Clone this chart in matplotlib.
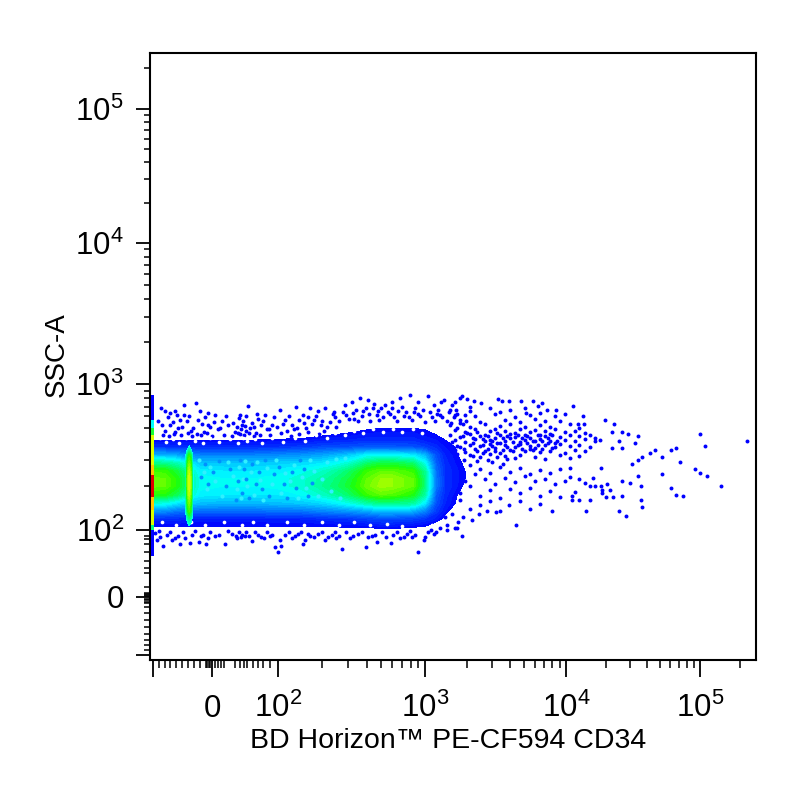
"""Flow cytometry dot plot: SSC-A against BD Horizon PE-CF594 CD34, biexponential axes."""
import matplotlib
matplotlib.use("Agg")
import matplotlib.pyplot as plt
import numpy as np
from matplotlib.colors import LinearSegmentedColormap, Normalize

plt.rcParams["font.family"] = ["Liberation Sans", "DejaVu Sans"]

# biexponential axis: marker value -> position along the axis
x_knots = [-107, -100, -50, 0, 20, 30, 40, 50, 60, 70, 80, 90, 100, 1e3, 1e4, 1e5, 262144]
x_pos = [149.5, 153, 182, 212, 235, 240, 244, 247, 253, 258, 263, 270, 278, 425, 566, 700, 756]
y_knots = [-110, -100, -90, -80, -70, -60, -50, -40, -30, -20, -10, 0,
           10, 20, 30, 40, 50, 60, 70, 80, 90, 100, 1e3, 1e4, 1e5, 262144]
y_pos = [-660, -655, -650, -645, -640, -634, -627, -620, -613, -607, -603, -597,
         -593, -587, -573, -568, -561, -552, -544, -539, -536, -530, -384, -243, -109, -52.5]

# population density (0 = no events, 10 = peak), rows run from high to low SSC-A
grid_x = [-107, -79, -57, -20, 11, 60, 100, 141, 200, 300, 400, 500, 600, 830,
          1000, 1197, 1386, 1632, 1922, 2380]
grid_y = [840, 665, 565, 485, 413, 370, 326, 287, 253, 224, 200, 174, 152, 134, 119, 106, 90, 72]
density = [
    [0, 0, 0, 0, 0, 0, 0, 0, 0, 0, 0, 0, 0, 0, 0, 0, 0, 0, 0, 0],
    [0, 0, 0, 0, 0, 0, 0, 0, 0, 0, 0, 0, 0, 0, 0, 0, 0, 0, 0, 0],
    [0, 0, 0, 0, 0, 0, 0, 0, 0, .3, .5, .5, .5, .5, .4, .2, 0, 0, 0, 0],
    [0, 0, 0, 0, 0, 0, 0, .2, .5, .8, 1, 1.1, 1.1, 1.1, 1, .8, .5, .2, 0, 0],
    [1, 1, 1, 1, 1, 1, 1.1, 1.1, 1.3, 1.4, 1.5, 1.5, 1.5, 1.5, 1.3, 1.2, 1, .6, .2, 0],
    [1.6, 1.6, 1.5, 1.5, 1.5, 1.5, 1.6, 1.7, 1.9, 2, 2.1, 2.1, 2.1, 2, 1.8, 1.5, 1.2, 1, .4, 0],
    [3.2, 3.2, 3, 2.6, 2.6, 2.6, 2.7, 2.8, 3, 3.4, 3.9, 4, 3.9, 3.8, 3.2, 2, 1.4, 1.1, .7, 0],
    [4.9, 4.8, 4.5, 3.4, 3.4, 3.4, 3.5, 3.6, 3.8, 4.3, 5.1, 5.4, 5.4, 5.1, 4.1, 2.2, 1.5, 1.2, .9, .1],
    [6, 5.9, 5.4, 3.9, 3.8, 3.8, 3.9, 4.1, 4.4, 5.1, 5.9, 6.2, 6.2, 5.9, 4.8, 2.4, 1.6, 1.3, 1, .1],
    [6.3, 6.2, 5.7, 4.1, 4, 4, 4.1, 4.3, 4.7, 5.4, 6.2, 6.6, 6.6, 6.2, 5, 2.5, 1.6, 1.3, 1, .1],
    [6.3, 6.2, 5.7, 4.1, 4, 4, 4.1, 4.3, 4.8, 5.5, 6.3, 6.7, 6.6, 6.2, 5, 2.5, 1.6, 1.3, .9, .1],
    [5.8, 5.7, 5.2, 3.9, 3.8, 3.8, 3.8, 4, 4.4, 5.1, 5.9, 6.2, 6.1, 5.7, 4.7, 2.2, 1.5, 1.1, .6, 0],
    [4.2, 4.1, 3.7, 3.3, 3.2, 3.2, 3.3, 3.4, 3.6, 4.1, 4.6, 4.9, 4.9, 4.7, 3.8, 2, 1.4, 1, .2, 0],
    [2.8, 2.7, 2.4, 2.3, 2.3, 2.3, 2.4, 2.4, 2.6, 2.8, 3, 3.3, 3.3, 3.1, 2.6, 1.7, 1.2, .6, 0, 0],
    [1.5, 1.5, 1.5, 1.3, 1.3, 1.3, 1.4, 1.4, 1.5, 1.6, 1.8, 1.9, 1.9, 1.8, 1.6, 1.3, .8, .2, 0, 0],
    [1, 1, 1, 1, 1, 1, 1, 1, 1, 1.1, 1.1, 1.2, 1.2, 1.1, 1, .6, .2, 0, 0, 0],
    [.2, .2, .2, .2, .2, .2, .2, .2, .2, .2, .3, .3, .3, .2, .2, 0, 0, 0, 0, 0],
    [0, 0, 0, 0, 0, 0, 0, 0, 0, 0, 0, 0, 0, 0, 0, 0, 0, 0, 0, 0],
]

# pile-up of events just left of zero
spike_x = [-46, -41, -38, -35, -30]
spike_y = [413, 370, 326, 287, 253, 224, 200, 174, 152, 134, 119, 108, 100]
spike_density = [
    [3, 3, 3, 3, 3],
    [3, 3.6, 4.2, 3.6, 3],
    [3, 5.2, 5.8, 5.2, 3],
    [3, 5.8, 6.4, 5.8, 3],
    [3, 6.2, 6.9, 6.2, 3],
    [3, 6.5, 7.2, 6.5, 3],
    [3, 6.5, 7.2, 6.5, 3],
    [3, 6.2, 6.9, 6.2, 3],
    [3, 5.8, 6.4, 5.8, 3],
    [3, 5.4, 6, 5.4, 3],
    [3, 4.5, 5, 4.5, 3],
    [3, 3.6, 4.2, 3.6, 3],
    [3, 3, 3, 3, 3],
]

# events piled on the left axis edge
edge_x = [-103, -98]
edge_y = [840, 565, 500, 447, 278, 238, 167, 137, 108, 100, 56]
edge_density = [1, 4, 5.5, 7.2, 8.2, 10, 8.2, 7.2, 5, 1]

top_fringe = [
    (-87, 690), (-80, 650), (-71, 635), (-62, 650), (-46, 720), (-27, 740), (-46, 615), (-53, 565),
    (-71, 525), (-57, 500), (-20, 650), (-7, 635), (3, 615), (-7, 525), (9, 560), (14, 525),
    (30, 615), (52, 710), (36, 525), (20, 470), (55, 500), (70, 580), (83, 615), (92, 525),
    (103, 665), (112, 565), (125, 525), (133, 700), (148, 615), (165, 680), (187, 650), (209, 690),
    (244, 590), (286, 720), (318, 750), (361, 800), (410, 780), (477, 650), (534, 720), (596, 750),
    (676, 800), (790, 840), (902, 750), (1050, 830), (1240, 665), (1360, 780), (1550, 720), (1770, 800),
    (1920, 615), (2090, 700), (-80, 480), (-62, 470), (-35, 480), (-13, 470), (5, 490), (25, 460),
    (45, 475), (65, 465), (85, 490), (115, 475), (135, 500), (150, 540), (175, 565), (195, 520),
    (225, 545), (260, 560), (290, 610), (330, 575), (370, 600), (425, 560), (470, 610), (520, 590),
    (580, 620), (640, 560), (720, 600), (810, 570), (900, 620), (1000, 545), (1120, 590), (1280, 610),
    (1430, 560), (1600, 590), (1850, 530), (340, 660), (395, 690), (450, 730), (600, 680), (700, 700),
    (860, 690), (1150, 720), (1300, 750), (1650, 660), (240, 640), (160, 590),
    # the crowded part just above the solid band
    (-92, 560), (-85, 520), (-75, 590), (-66, 545), (-58, 610), (-50, 510), (-42, 555), (-38, 600),
    (-31, 500), (-24, 570), (-17, 530), (-11, 590), (-3, 505), (2, 550), (7, 500), (12, 600),
    (18, 540), (23, 510), (27, 585), (33, 495), (38, 560), (43, 515), (48, 600), (58, 540),
    (62, 505), (68, 620), (75, 520), (80, 560), (88, 495), (95, 590), (99, 505), (108, 530),
    (118, 600), (128, 490), (140, 570), (155, 500), (170, 530), (182, 600), (200, 560), (215, 510),
    (235, 620), (250, 510), (275, 640), (305, 580), (325, 630), (350, 560), (380, 650), (415, 620),
    (440, 690), (490, 570), (505, 680), (560, 640), (620, 590), (660, 650), (745, 640), (780, 590),
    (840, 640), (930, 600), (970, 660), (1080, 640), (1180, 560), (1220, 620), (1330, 590), (1480, 640),
    (1540, 540), (1700, 620), (1780, 540), (1950, 560),
    (-83, 450), (-72, 440), (-64, 455), (-52, 445), (-40, 460), (-34, 440), (-25, 455), (-19, 445),
    (-9, 460), (0, 440), (10, 450), (17, 440), (29, 455), (40, 445), (53, 460), (61, 440),
    (73, 450), (90, 445), (105, 460), (122, 440), (138, 455), (160, 470), (190, 455), (205, 480),
]

bottom_fringe = [
    (-93, 78), (-88, 86), (-83, 68), (-68, 78), (-62, 83), (-53, 70), (-37, 72), (-33, 92),
    (-22, 75), (-15, 92), (-7, 83), (3, 90), (11, 70), (17, 94), (24, 83), (42, 90),
    (58, 77), (70, 92), (81, 83), (90, 90), (96, 66), (100, 60), (112, 92), (125, 83),
    (137, 94), (153, 78), (165, 90), (187, 94), (209, 78), (233, 92), (273, 64), (309, 83),
    (350, 94), (394, 66), (437, 90), (508, 97), (588, 72), (606, 92), (676, 83), (755, 94),
    (902, 60), (980, 78), (1050, 97), (1280, 103), (1430, 100), (105, 68), (103, 78),
    (-45, 85), (-10, 70), (32, 88), (148, 70), (250, 85), (470, 74), (820, 88), (1150, 94),
    # the crowded part just below the solid band
    (-96, 95), (-90, 98), (-76, 92), (-70, 97), (-57, 90), (-48, 96), (-29, 98), (-18, 90),
    (-4, 97), (6, 92), (14, 98), (21, 90), (28, 96), (36, 92), (47, 97), (54, 90),
    (64, 96), (76, 88), (86, 97), (93, 92), (118, 97), (131, 90), (143, 97), (160, 94),
    (176, 88), (198, 97), (220, 88), (245, 97), (262, 90), (290, 97), (325, 90), (372, 97),
    (410, 86), (460, 92), (540, 88), (640, 97), (720, 88), (790, 98), (860, 92), (1000, 88),
    (1100, 100), (1200, 96),
]

tail_dots = [
    (1630, 750), (1830, 830), (2000, 790), (2230, 770), (2500, 740), (3300, 790), (3530, 770),
    (3950, 770), (4790, 770), (5830, 770), (6720, 740), (6320, 710), (11300, 710), (8500, 665),
    (7300, 665), (5200, 635), (13300, 600), (19500, 565), (23000, 535), (12300, 535), (13600, 535),
    (22000, 470), (26000, 470), (29000, 455), (34700, 440), (100000, 455), (224000, 405),
    (109000, 375), (25000, 405), (33000, 395), (22000, 365), (26000, 365), (42000, 335), (46000, 353),
    (61000, 353), (66000, 365), (37000, 315), (34700, 301), (52000, 315), (31000, 282), (70900, 292),
    (18400, 265), (91600, 262), (100000, 245), (113000, 235), (52000, 243), (34700, 235),
    (143000, 200), (26000, 217), (30000, 210), (36000, 200), (61000, 195), (66000, 174), (75000, 170),
    (36000, 160), (37000, 144), (26000, 170), (28000, 125), (25000, 135), (14000, 135), (4450, 108),
    (1840, 90), (1630, 103), (10700, 265), (10700, 232), (13800, 210), (15000, 200), (16000, 228),
    (16500, 200), (18400, 200), (18700, 188), (20100, 207), (21200, 188), (18700, 180), (19800, 168),
    (22500, 168), (15000, 160), (11700, 183), (11000, 170), (11000, 160), (12600, 160),
    # upper arm
    (1500, 665), (2090, 650), (2900, 680), (3400, 640), (4000, 660), (5120, 690),
    (1630, 615), (2270, 600), (3130, 625), (4350, 590), (5550, 610), (6540, 630), (8350, 600), (9830, 620),
    (1770, 565), (2460, 550), (3690, 570), (4720, 545), (6030, 575), (7100, 555), (9060, 560),
    (1500, 525), (2090, 510), (2670, 530), (3400, 515), (4000, 535), (5120, 510), (6540, 525),
    (7700, 505), (10700, 530), (12600, 500),
    (1630, 485), (1920, 470), (2270, 490), (2900, 475), (3130, 495), (3690, 480), (4350, 465),
    (4720, 490), (5550, 470), (6030, 485), (7100, 475), (8350, 490), (9830, 470), (11700, 480), (13800, 465),
    (1500, 447), (1770, 435), (2090, 455), (2460, 440), (2670, 450), (3130, 430), (3400, 445),
    (4000, 455), (4350, 435), (5120, 447), (5550, 430), (6540, 450), (7100, 440), (7700, 455),
    (9060, 435), (10700, 447), (12600, 440), (15000, 447), (16500, 430),
    (1630, 413), (1920, 400), (2270, 420), (2670, 405), (2900, 415), (3400, 395), (3690, 410),
    (4000, 425), (4720, 400), (5120, 415), (6030, 405), (6540, 420), (7700, 410), (8350, 395),
    (9830, 415), (11700, 405), (13800, 420), (16500, 410), (18000, 415),
    (1500, 381), (1770, 370), (2090, 385), (2460, 375), (2900, 390), (3130, 365), (3690, 380),
    (4350, 370), (4720, 388), (5550, 375), (6030, 365), (7100, 385), (8350, 370), (9060, 388),
    (10700, 375), (12600, 385), (15000, 370),
    (1630, 353), (1920, 340), (2270, 358), (2670, 345), (3130, 350), (3400, 335), (4000, 355),
    (5120, 345), (5550, 358), (6540, 340), (7700, 350), (9830, 338), (11700, 352), (13800, 345),
    (2090, 326), (2460, 315), (2900, 330), (3690, 320), (4350, 310), (4720, 328), (6030, 318),
    (7100, 305), (9060, 325), (10700, 310), (12600, 320),
    # lower arm
    (1500, 270), (1770, 255), (2090, 280), (2460, 262), (2900, 245), (3400, 270), (4000, 250),
    (4720, 265), (5550, 240), (6540, 258), (7700, 245), (9060, 262),
    (1630, 232), (1920, 215), (2270, 240), (2670, 222), (3130, 205), (3690, 228), (4350, 212),
    (5120, 235), (6030, 215), (7100, 225), (8350, 208), (9830, 218), (12600, 225),
    (1500, 195), (1770, 180), (2090, 200), (2460, 172), (2900, 188), (3400, 165), (4000, 192),
    (4720, 178), (5550, 195), (6540, 172), (7700, 185), (9060, 168),
    (1500, 150), (1770, 160), (2090, 140), (2460, 148), (2900, 158), (3400, 135), (3950, 148),
    (4720, 158), (5550, 140), (6540, 150), (8000, 135),
    (1390, 122), (1560, 128), (1720, 113), (1860, 122), (2150, 118), (2400, 128), (2750, 135),
    (3200, 133), (1440, 108), (1700, 103),
    # solid-looking root of the upper arm
    (1700, 500), (1850, 440), (1980, 465), (2180, 430), (2350, 470), (2560, 420), (2780, 440),
    (3000, 410), (3250, 460), (3550, 425), (3830, 440), (4180, 400), (4550, 450), (4900, 425),
    (5300, 440), (5800, 410), (6280, 445), (6800, 405), (7400, 430), (8000, 445), (8700, 410),
    (1560, 400), (1680, 375), (1880, 360), (2180, 395), (2350, 345), (2560, 385), (2780, 360),
    (3000, 375), (3250, 395), (3550, 355), (3830, 370), (4180, 345), (4550, 385), (4900, 360),
    (5300, 395), (5800, 355), (6280, 380), (6800, 360), (7400, 395), (8000, 365),
    (1560, 310), (1700, 330), (1880, 300), (2180, 320), (2350, 295), (2560, 335), (2780, 300),
    (3000, 290), (3250, 315), (3550, 285), (3830, 305),
]

# paler and darker flecks inside the band, and gaps along its rim
light_flecks = [
    (-22, 300), (-14, 250), (-9, 190), (-3, 270), (3, 215), (9, 170), (14, 290), (18, 235),
    (23, 190), (28, 270), (33, 165), (38, 225), (44, 295), (50, 200), (56, 250), (62, 175),
    (68, 290), (74, 220), (80, 160), (86, 265), (92, 205), (98, 300), (105, 180), (112, 245),
    (120, 215), (128, 280), (136, 165), (145, 230), (155, 195), (165, 300), (176, 255), (188, 170),
    (200, 225), (215, 290), (230, 185), (248, 305), (265, 165), (285, 310),
]
dark_flecks = [
    (-18, 230), (-11, 285), (-6, 205), (1, 250), (6, 295), (12, 200), (16, 260), (21, 160),
    (26, 215), (31, 300), (36, 180), (41, 260), (47, 225), (53, 165), (59, 285), (65, 205),
    (71, 250), (77, 190), (83, 300), (89, 170), (95, 240), (102, 270), (109, 205), (116, 165),
    (124, 250), (132, 195), (141, 300), (150, 260), (160, 170), (171, 210),
]
rim_gaps = [
    (-88, 425), (-78, 400), (-66, 420), (-55, 395), (-44, 430), (-28, 405), (-15, 395), (-4, 425),
    (6, 400), (16, 420), (26, 395), (38, 430), (50, 405), (63, 420), (78, 395), (92, 425),
    (108, 400), (130, 430), (152, 405), (180, 445), (215, 430), (245, 465), (285, 450), (330, 480),
    (380, 460), (440, 490), (520, 470), (610, 495), (700, 470), (830, 490), (960, 465),
    (-85, 113), (-60, 108), (-35, 113), (-12, 108), (10, 113), (35, 108), (60, 113), (85, 108),
    (115, 113), (150, 108), (200, 113), (260, 108), (330, 113), (420, 108), (550, 110), (700, 106),
    (1120, 108),
]

x_major = [-100, 0, 100, 1e3, 1e4, 1e5]
x_major_labels = ["", "0", r"$\mathregular{10^{2}}$", r"$\mathregular{10^{3}}$",
                  r"$\mathregular{10^{4}}$", r"$\mathregular{10^{5}}$"]
y_major = [-100, 0, 100, 1e3, 1e4, 1e5]
y_major_labels = x_major_labels
near_zero = [-8, -5, -3, 3, 5, 8]
linear_minor = [-90, -80, -70, -60, -50, -40, -30, -20, -10, 10, 20, 30, 40, 50, 60, 70, 80, 90]
log_minor = [m * 10 ** e for e in (2, 3, 4) for m in range(2, 10)] + [2e5]
medium_ticks = [-50, 50, 500, 5000, 50000]

pseudo_color = LinearSegmentedColormap.from_list("pseudo", [
    (0.0, "#0000ff"), (0.1, "#0000ff"), (0.2, "#0050ff"), (0.3, "#00a0ff"), (0.4, "#00ffff"),
    (0.5, "#00ff80"), (0.58, "#20ff00"), (0.66, "#90ff00"), (0.75, "#ffff00"), (0.88, "#ff9000"),
    (1.0, "#e00000"),
])
norm = Normalize(0, 10)


def decades(v):
    # linear below 100, log above, so the knots only have to bend the scale a little
    v = np.asarray(v, dtype=float)
    a = np.abs(v)
    return np.where(a < 100, v / 100, np.sign(v) * (1 + np.log10(np.maximum(a, 100) / 100)))


def undecades(t):
    t = np.asarray(t, dtype=float)
    a = np.abs(t)
    return np.where(a < 1, t * 100, np.sign(t) * 100 * 10 ** (np.maximum(a, 1) - 1))


def biex_functions(knots, pos):
    k = decades(knots)

    def forward(v):
        v = np.asarray(v, dtype=float)
        return np.interp(decades(v).ravel(), k, pos).reshape(v.shape)

    def inverse(p):
        p = np.asarray(p, dtype=float)
        return undecades(np.interp(p.ravel(), pos, k)).reshape(p.shape)

    return forward, inverse


def style_ticks(axis, major, labels, major_len, medium_len, minor_len):
    axis.set_major_locator(plt.FixedLocator(major))
    axis.set_major_formatter(plt.FixedFormatter(labels))
    axis.set_minor_locator(plt.FixedLocator(linear_minor + near_zero + log_minor))
    axis.set_minor_formatter(plt.NullFormatter())
    axis.set_tick_params(which="major", length=major_len, width=1.3)
    axis.set_tick_params(which="minor", length=minor_len, width=1.1)
    for tick in axis.get_minor_ticks():
        if tick.get_loc() in medium_ticks:
            tick.tick1line.set_markersize(medium_len)


fig = plt.figure(figsize=(8, 8), dpi=100, facecolor="white")
ax = fig.add_axes([149.5 / 800, 140 / 800, 606.5 / 800, 607.5 / 800])
ax.set_xscale("function", functions=biex_functions(x_knots, x_pos))
ax.set_yscale("function", functions=biex_functions(y_knots, y_pos))

levels = np.arange(1, 10.01, 0.2)
ax.contourf(grid_x, grid_y[::-1], np.array(density)[::-1], levels=levels, cmap=pseudo_color, norm=norm, zorder=2)
for dots in (top_fringe, bottom_fringe, tail_dots):
    xs, ys = zip(*dots)
    ax.scatter(xs, ys, s=8, c="#0000ff", linewidths=0, zorder=1)
for dots, color, size in ((light_flecks, "#30f0ff", 9), (dark_flecks, "#0090ff", 8), (rim_gaps, "white", 7)):
    xs, ys = zip(*dots)
    ax.scatter(xs, ys, s=size, c=color, linewidths=0, zorder=2.5)
ax.contourf(spike_x, spike_y[::-1], np.array(spike_density)[::-1], levels=levels[levels >= 3.8],
            cmap=pseudo_color, norm=norm, zorder=3)
ax.pcolormesh(edge_x, edge_y, np.array(edge_density).reshape(-1, 1), cmap=pseudo_color, norm=norm, zorder=4)

ax.set_xlim(-107, 262144)
ax.set_ylim(-110, 262144)

style_ticks(ax.xaxis, x_major, x_major_labels, 12, 8.5, 6)
style_ticks(ax.yaxis, y_major, y_major_labels, 10, 6.5, 4.3)
ax.tick_params(axis="x", which="major", labelsize=22.5, pad=29)
ax.tick_params(axis="y", which="major", labelsize=22.5, pad=8.5)
for label in ax.get_xticklabels():
    label.set_verticalalignment("baseline")
for label in ax.get_yticklabels():
    label.set_verticalalignment("center_baseline")

for spine in ax.spines.values():
    spine.set_linewidth(1.5)

ax.set_xlabel("BD Horizon\u2122 PE-CF594 CD34", fontsize=20.5, va="baseline")
ax.xaxis.set_label_coords(0.492, -0.145)
ax.set_ylabel("SSC-A", fontsize=20, va="baseline")
ax.yaxis.set_label_coords(-0.1415, 0.502)

fig.savefig("out.png", dpi=100)
